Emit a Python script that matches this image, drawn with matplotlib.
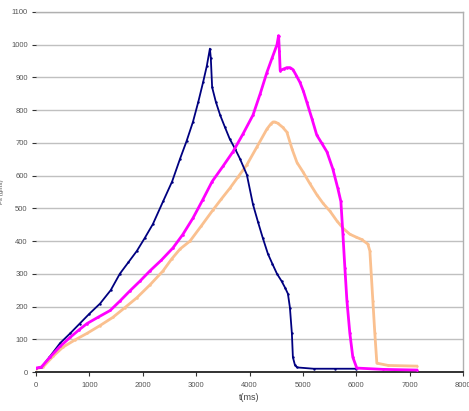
import matplotlib
matplotlib.use("Agg")
import matplotlib.pyplot as plt

# navy series
t_navy = [0, 100, 250, 450, 640, 820, 1000, 1200, 1400, 1570, 1730, 1890, 2040,
          2190, 2380, 2550, 2700, 2820, 2940, 3040, 3130, 3200, 3258, 3275, 3300,
          3370, 3450, 3540, 3630, 3730, 3820, 3950, 4065, 4160, 4250, 4345, 4430,
          4515, 4600, 4665, 4720, 4757, 4794, 4813, 4850, 4890, 5200, 5600, 6000]
f_navy = [12, 14, 45, 88, 118, 148, 178, 209, 250, 300, 335, 370, 410,
          452, 521, 582, 652, 705, 764, 825, 885, 935, 988, 960, 870,
          825, 785, 748, 712, 682, 652, 603, 512, 458, 409, 361, 330,
          300, 278, 258, 239, 197, 118, 45, 22, 14, 10, 10, 10]

# magenta series
t_mag = [0, 100, 260, 450, 640, 800, 955, 1170, 1390, 1580, 1760, 1950, 2135,
         2350, 2565, 2750, 2940, 3120, 3300, 3500, 3690, 3880, 4065, 4200, 4325,
         4420, 4515, 4545, 4560, 4575, 4640, 4700, 4760, 4815, 4880, 4945, 5010,
         5075, 5170, 5260, 5350, 5450, 5560, 5655, 5712, 5750, 5787, 5825, 5880,
         5936, 6010, 6500, 7130]
f_mag = [12, 15, 45, 78, 106, 128, 148, 168, 188, 218, 248, 278, 309,
         342, 379, 420, 470, 525, 582, 628, 673, 728, 785, 850, 915,
         958, 1000, 1028, 980, 921, 926, 930, 930, 924, 905, 885, 858,
         824, 774, 724, 700, 673, 621, 561, 521, 421, 318, 218, 118,
         45, 12, 8, 6]

# orange series
t_org = [0, 130, 320, 505, 730, 955, 1200, 1440, 1660, 1890, 2140, 2380, 2540,
         2700, 2885, 3100, 3315, 3470, 3630, 3790, 3950, 4140, 4325, 4400, 4440,
         4475, 4530, 4620, 4700, 4800, 4890, 5000, 5130, 5260, 5380, 5510, 5640,
         5760, 5880, 6000, 6100, 6217, 6255, 6311, 6348, 6386, 6600, 7130]
f_org = [10, 15, 48, 76, 98, 118, 142, 167, 196, 227, 267, 309, 345,
         376, 400, 447, 495, 528, 561, 597, 633, 688, 742, 758, 764,
         764, 760, 748, 733, 680, 640, 612, 576, 542, 515, 491, 461,
         438, 421, 412, 405, 391, 370, 218, 118, 27, 20, 18]

plt.rcParams['font.family'] = ['Liberation Sans', 'DejaVu Sans']

fig = plt.figure(figsize=(4.69, 4.11), dpi=100)
ax = fig.add_axes([36/469, 1 - 372/411, 427/469, 360/411])

ax.plot(t_navy, f_navy, color='#000080', lw=1.3, marker='.', ms=1.5, zorder=3)
ax.plot(t_org, f_org, color='#FAC08F', lw=2.0, marker='.', ms=1.5, zorder=2)
ax.plot(t_mag, f_mag, color='#FF00FF', lw=2.0, marker='.', ms=1.8, zorder=4)

ax.set_xlim(0, 8000)
ax.set_ylim(0, 1100)
ax.set_xticks(range(0, 8001, 1000))
ax.set_yticks(range(0, 1101, 100))
ax.grid(axis='y', color='#c0c0c0', lw=1.0)
ax.set_axisbelow(True)

for s in ['top', 'right']:
    ax.spines[s].set_color('#b0b0b0')
    ax.spines[s].set_linewidth(1.0)
ax.spines['left'].set_visible(False)
ax.spines['bottom'].set_color('#222222')
ax.spines['bottom'].set_linewidth(1.3)

ax.tick_params(axis='both', labelsize=5.5, labelcolor='#555555', color='#333333',
               length=3, width=0.8, direction='out')
ax.tick_params(axis='y', pad=3)
ax.tick_params(axis='x', pad=4)

ax.set_xlabel('t(ms)', fontsize=6.5, color='#444444', labelpad=3)
ax.set_ylabel('Fs (gms)', fontsize=4.5, color='#555555', labelpad=5)

fig.savefig('out.png', dpi=100)
